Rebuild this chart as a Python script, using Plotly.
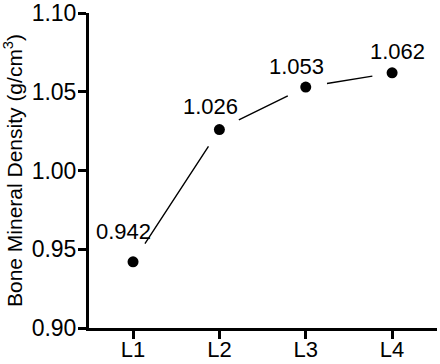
import plotly.graph_objects as go

categories = ["L1", "L2", "L3", "L4"]
bmd = [0.942, 1.026, 1.053, 1.062]
value_labels = ["0.942", "1.026", "1.053", "1.062"]
y_ticks = [0.90, 0.95, 1.00, 1.05, 1.10]

# label offsets in pixels (styling only)
label_dx = [-10, -9, -9, 5]
label_dy = [30, 23, 21, 21]

FONT = "Liberation Sans, Arial, sans-serif"
FS = 23

xs = list(range(len(categories)))

fig = go.Figure()
fig.add_trace(go.Scatter(
    x=xs, y=bmd, mode="markers",
    marker=dict(symbol="circle", size=11, color="black"),
    showlegend=False, hoverinfo="skip",
))

annotations = []
# connecting segments with gaps around markers
for i in range(len(xs) - 1):
    annotations.append(dict(
        x=xs[i + 1], y=bmd[i + 1], ax=xs[i], ay=bmd[i],
        xref="x", yref="y", axref="x", ayref="y",
        text="", showarrow=True, arrowhead=0, arrowwidth=1.4,
        arrowcolor="black", standoff=20, startstandoff=20,
    ))
for i in range(len(xs)):
    annotations.append(dict(
        x=xs[i], y=bmd[i], xref="x", yref="y", text=value_labels[i],
        showarrow=False, xshift=label_dx[i], yshift=label_dy[i],
        font=dict(family=FONT, size=FS - 1, color="black"),
    ))

fig.update_layout(
    width=440, height=364,
    margin=dict(l=89, r=3, t=13, b=36),
    paper_bgcolor="white", plot_bgcolor="white",
    font=dict(family=FONT, size=FS, color="black"),
    annotations=annotations,
    xaxis=dict(
        range=[-0.51, 3.52], tickmode="array", tickvals=xs, ticktext=categories,
        showgrid=False, zeroline=False, showline=True, linecolor="black", linewidth=3,
        ticks="outside", ticklen=8, tickwidth=3, tickcolor="black",
        tickfont=dict(family=FONT, size=FS - 1), automargin=False,
        ticklabelstandoff=-8,
    ),
    yaxis=dict(
        range=[0.90, 1.10], tickmode="array", tickvals=y_ticks,
        ticktext=[f"{v:.2f}" for v in y_ticks],
        showgrid=False, zeroline=False, showline=True, linecolor="black", linewidth=3,
        ticks="outside", ticklen=8, tickwidth=3, tickcolor="black",
        tickfont=dict(family=FONT, size=FS), ticklabelstandoff=-3, automargin=False,
        title=dict(text="Bone Mineral Density (g/cm<sup>3</sup>)",
                   font=dict(family=FONT, size=21), standoff=6),
    ),
)

fig.write_html("out.html")
